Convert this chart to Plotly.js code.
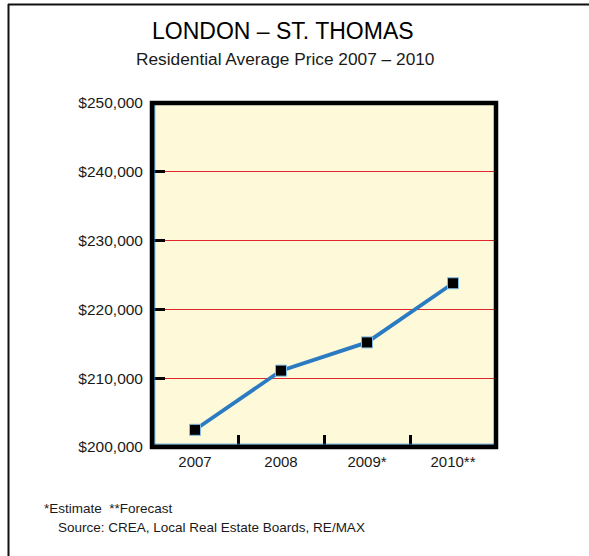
<!DOCTYPE html>
<html>
<head>
<meta charset="utf-8">
<script src="https://cdn.plot.ly/plotly-3.0.1.min.js"></script>
<style>
  html, body { margin: 0; padding: 0; background: #ffffff; }
  #chart { width: 589px; height: 556px; }
</style>
</head>
<body>
<div id="chart"></div>
<script>
// Data
const years = ['2007', '2008', '2009*', '2010**'];
const avgPrice = [202500, 211100, 215200, 223800];
const yTickValues = [200000, 210000, 220000, 230000, 240000, 250000];
const yTickLabels = ['$200,000', '$210,000', '$220,000', '$230,000', '$240,000', '$250,000'];

const titleText = 'LONDON – ST. THOMAS';
const subtitleText = 'Residential Average Price 2007 – 2010';
const noteText = '*Estimate  **Forecast';
const sourceText = 'Source: CREA, Local Real Estate Boards, RE/MAX';

const FONT = 'Liberation Sans, Arial, Helvetica, sans-serif';

// plot area geometry (pixels)
const L = 152, R = 496, T = 103, B = 447;
const W = R - L, H = B - T;
const px = x => (x - L) / W;
const py = y => (B - y) / H;

const trace = {
  x: years,
  y: avgPrice,
  type: 'scatter',
  mode: 'lines+markers',
  line: { color: '#2a7bc1', width: 3.8 },
  marker: { symbol: 'square', size: 11, color: '#000000', line: { color: '#7fbde6', width: 1 } },
  hoverinfo: 'x+y'
};

const layout = {
  width: 589,
  height: 556,
  margin: { l: L, r: 589 - R, t: T, b: 556 - B, pad: 0 },
  paper_bgcolor: '#ffffff',
  plot_bgcolor: '#fefad9',
  showlegend: false,
  font: { family: FONT, color: '#1a1a1a' },
  xaxis: {
    type: 'category',
    range: [-0.5, 3.5],
    tickson: 'boundaries',
    ticks: 'inside',
    ticklen: 12,
    tickwidth: 3,
    tickcolor: '#000000',
    showgrid: false,
    zeroline: false,
    showline: false,
    ticklabelstandoff: 4,
    tickfont: { family: FONT, size: 15, color: '#1a1a1a' },
    fixedrange: true
  },
  yaxis: {
    range: [200000, 250000],
    tickmode: 'array',
    tickvals: yTickValues,
    ticktext: yTickLabels,
    ticks: 'inside',
    ticklen: 13,
    tickwidth: 3,
    tickcolor: '#000000',
    showgrid: true,
    gridcolor: '#e0262c',
    gridwidth: 1,
    zeroline: false,
    showline: false,
    ticklabelstandoff: 8,
    tickfont: { family: FONT, size: 15.5, color: '#1a1a1a' },
    fixedrange: true
  },
  shapes: [
    // thin blue inner edges
    { type: 'line', xref: 'paper', yref: 'paper', x0: 0.008, x1: 0.008, y0: 0, y1: 1, line: { color: '#2a7bc1', width: 1 } },
    { type: 'line', xref: 'paper', yref: 'paper', x0: 0, x1: 1, y0: 0.008, y1: 0.008, line: { color: '#2a7bc1', width: 1 } },
    // thick plot border
    { type: 'rect', xref: 'paper', yref: 'paper', x0: 0, x1: 1, y0: 0, y1: 1, line: { color: '#000000', width: 4.5 }, fillcolor: 'rgba(0,0,0,0)' },
    // outer frame (top and left lines)
    { type: 'line', xref: 'paper', yref: 'paper', x0: px(8), x1: px(600), y0: py(4.5), y1: py(4.5), line: { color: '#111111', width: 2 } },
    { type: 'line', xref: 'paper', yref: 'paper', x0: px(8.5), x1: px(8.5), y0: py(4), y1: py(570), line: { color: '#111111', width: 2 } }
  ],
  annotations: [
    { text: titleText, xref: 'paper', yref: 'paper', x: px(283), y: py(31), xanchor: 'center', yanchor: 'middle', showarrow: false, font: { family: FONT, size: 23, color: '#000000' } },
    { text: subtitleText, xref: 'paper', yref: 'paper', x: px(285), y: py(59), xanchor: 'center', yanchor: 'middle', showarrow: false, font: { family: FONT, size: 17.3, color: '#1a1a1a' } },
    { text: noteText, xref: 'paper', yref: 'paper', x: px(42), y: py(509), xanchor: 'left', yanchor: 'middle', showarrow: false, font: { family: FONT, size: 13.5, color: '#1a1a1a' } },
    { text: sourceText, xref: 'paper', yref: 'paper', x: px(56), y: py(527), xanchor: 'left', yanchor: 'middle', showarrow: false, font: { family: FONT, size: 13.5, color: '#1a1a1a' } }
  ]
};

Plotly.newPlot('chart', [trace], layout, { displayModeBar: false, staticPlot: true });
</script>
</body>
</html>
